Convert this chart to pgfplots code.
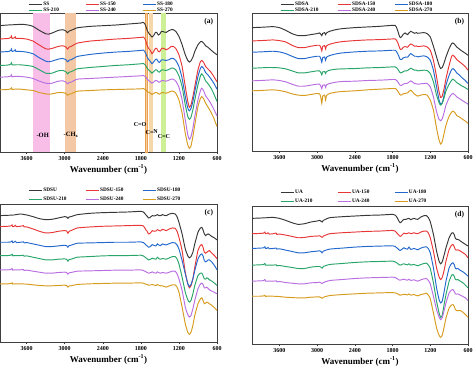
\documentclass[border=0pt]{standalone}
\usepackage{fontspec}
\setmainfont{Liberation Serif}
\usepackage{pgfplots}
\pgfplotsset{compat=1.18}
\definecolor{cK}{RGB}{55,55,55}
\definecolor{cR}{RGB}{232,55,55}
\definecolor{cB}{RGB}{35,105,205}
\definecolor{cG}{RGB}{40,165,105}
\definecolor{cP}{RGB}{185,110,225}
\definecolor{cO}{RGB}{215,155,30}
\definecolor{bPink}{RGB}{248,190,232}
\definecolor{bCH}{RGB}{244,200,165}
\definecolor{bCOe}{RGB}{235,160,80}
\definecolor{bCO}{RGB}{245,205,160}
\definecolor{bCN}{RGB}{245,215,170}
\definecolor{bCC}{RGB}{205,240,150}
\newcommand\lb[1]{\makebox[36pt][l]{#1}}
\pgfplotsset{ftir/.style={
  scale only axis, height=138pt,
  x dir=reverse, xmin=600,
  y dir=reverse, ytick=\empty,
  xtick={600,1200,1800,2400,3000,3600},
  xtick pos=lower, xtick align=outside,
  major tick length=2pt,
  tick style={black!80, line width=0.5pt},
  axis line style={line width=0.6pt, black!75},
  /pgf/number format/assume math mode=true,
  /pgf/number format/1000 sep={},
  xticklabel style={font=\bfseries\fontsize{6}{6}\selectfont, yshift=1pt},
  xlabel={Wavenumber (cm\textsuperscript{-1})},
  xlabel style={font=\bfseries\fontsize{9}{9}\selectfont, yshift=3pt},
  legend columns=3,
  legend style={draw=none, fill=none, at={(0.13,1)}, anchor=south west, yshift=0.5pt,
    inner sep=0pt, font=\bfseries\fontsize{5.3}{6}\selectfont, row sep=2pt,
    nodes={inner sep=1pt},
    /tikz/every even column/.append style={column sep=5pt}},
  legend image code/.code={\draw[#1,line width=0.9pt] (0pt,0pt) -- (13pt,0pt);},
  every axis plot/.append style={line width=0.95pt, smooth, tension=0.3},
  toplegend/.style={legend style={row sep=-1.5pt, yshift=-1.5pt}},
}}
\begin{document}
\begin{tikzpicture}
\useasboundingbox (0,0) rectangle (474pt,367pt);
\clip (0,0) rectangle (474pt,367pt);
% ---------------- (a)
\begin{axis}[ftir, toplegend, at={(0pt,215pt)}, anchor=south west, width=217pt, height=139pt,
  xmax=4020, ymin=40, ymax=456]
\fill[bPink] (axis cs:3495,40) rectangle (axis cs:3232,456);
\fill[bCH] (axis cs:2996,40) rectangle (axis cs:2828,456);
\fill[bCO, draw=bCOe, line width=0.6pt] (axis cs:1735,40) rectangle (axis cs:1700,456);
\fill[bCN] (axis cs:1672,40) rectangle (axis cs:1604,456);
\fill[bCC] (axis cs:1487,40) rectangle (axis cs:1408,456);
\addplot[cK] coordinates {(4030,78) (3900,76) (3800,75) (3700,74) (3650,74) (3550,77) (3500,80) (3400,92) (3300,102) (3250,103) (3200,100) (3100,92) (3030,90) (2980,94) (2955,99) (2930,94) (2900,92) (2850,88) (2800,84) (2600,80) (2400,78) (2200,76) (2000,73) (1800,70) (1760,68) (1740,72) (1720,80) (1700,92) (1670,102) (1650,106) (1625,112) (1600,108) (1570,98) (1550,98) (1525,106) (1505,104) (1480,96) (1460,95) (1430,97) (1400,98) (1360,93) (1320,90) (1290,90) (1250,95) (1200,110) (1150,135) (1100,165) (1060,182) (1035,187) (1010,183) (980,172) (950,155) (900,135) (860,126) (840,125) (810,130) (780,138) (740,143) (700,150) (650,158) (600,165)};
\addlegendentry{\lb{SS}}
\addplot[cR] coordinates {(4030,118) (3950,117) (3880,116) (3850,113) (3840,109) (3830,116) (3800,115) (3780,111) (3770,116) (3700,116) (3600,118) (3500,124) (3400,136) (3300,147) (3250,148) (3200,146) (3100,140) (3030,138) (2980,142) (2955,148) (2930,142) (2900,140) (2800,130) (2600,124) (2400,121) (2200,118) (2000,116) (1800,113) (1760,112) (1740,116) (1720,125) (1700,138) (1670,148) (1650,152) (1625,162) (1600,156) (1570,146) (1550,146) (1525,155) (1505,156) (1480,148) (1460,145) (1430,147) (1400,150) (1360,146) (1320,140) (1290,140) (1250,146) (1200,165) (1150,200) (1100,260) (1060,305) (1035,322) (1010,315) (980,290) (950,260) (900,210) (860,185) (840,182) (810,188) (780,200) (740,208) (700,216) (650,230) (600,246)};
\addlegendentry{\lb{SS-150}}
\addplot[cB] coordinates {(4030,157) (3950,156) (3880,155) (3850,152) (3840,148) (3830,155) (3800,154) (3780,150) (3770,155) (3700,155) (3600,157) (3500,162) (3400,174) (3300,184) (3250,186) (3200,184) (3100,178) (3030,176) (2980,180) (2955,186) (2930,181) (2900,180) (2800,170) (2600,164) (2400,160) (2200,157) (2000,155) (1800,152) (1760,151) (1740,155) (1720,162) (1700,172) (1670,181) (1650,185) (1625,192) (1600,187) (1570,179) (1550,178) (1525,186) (1505,188) (1480,181) (1460,180) (1430,181) (1400,182) (1360,180) (1320,176) (1290,176) (1250,182) (1200,200) (1150,235) (1100,290) (1060,325) (1035,333) (1010,326) (980,305) (950,275) (900,230) (860,205) (840,200) (810,206) (780,218) (740,226) (700,236) (650,250) (600,268)};
\addlegendentry{\lb{SS-180}}
\addplot[cG] coordinates {(4030,197) (3900,196) (3850,193) (3840,189) (3830,195) (3800,195) (3700,195) (3600,197) (3500,200) (3400,210) (3300,220) (3250,221) (3200,220) (3100,213) (3030,212) (2980,216) (2955,222) (2930,217) (2900,216) (2800,207) (2600,203) (2400,200) (2200,197) (2000,195) (1800,192) (1760,191) (1740,194) (1720,198) (1700,205) (1670,212) (1650,215) (1625,220) (1600,216) (1570,210) (1550,210) (1525,216) (1505,217) (1480,211) (1460,210) (1430,211) (1400,212) (1360,209) (1320,205) (1290,205) (1250,210) (1200,228) (1150,260) (1100,315) (1060,350) (1035,358) (1010,352) (980,330) (950,300) (900,255) (860,228) (840,222) (810,230) (780,243) (740,252) (700,263) (650,282) (600,305)};
\addlegendentry{\lb{SS-210}}
\addplot[cP] coordinates {(4030,232) (3900,231) (3850,229) (3840,225) (3830,231) (3800,230) (3700,230) (3600,232) (3500,236) (3400,244) (3300,250) (3250,251) (3200,250) (3100,244) (3030,243) (2980,247) (2955,252) (2930,248) (2900,247) (2800,238) (2600,236) (2400,234) (2200,232) (2000,230) (1800,228) (1760,227) (1740,229) (1720,232) (1700,238) (1670,243) (1650,246) (1625,250) (1600,247) (1570,242) (1550,242) (1525,246) (1505,247) (1480,243) (1460,242) (1430,243) (1400,244) (1360,241) (1320,238) (1290,238) (1250,244) (1200,262) (1150,300) (1100,360) (1060,405) (1035,418) (1010,410) (980,385) (950,350) (900,300) (860,272) (840,265) (810,273) (780,288) (740,298) (700,310) (650,328) (600,348)};
\addlegendentry{\lb{SS-240}}
\addplot[cO] coordinates {(4030,270) (3900,269) (3850,267) (3840,264) (3830,269) (3800,268) (3700,268) (3600,270) (3500,272) (3400,278) (3300,282) (3250,283) (3200,282) (3100,278) (3030,278) (2980,281) (2955,286) (2930,283) (2900,282) (2800,274) (2600,272) (2400,270) (2200,269) (2000,268) (1800,267) (1760,266) (1740,268) (1720,270) (1700,275) (1670,278) (1650,280) (1625,284) (1600,281) (1570,278) (1550,278) (1525,282) (1505,283) (1480,279) (1460,278) (1430,279) (1400,280) (1360,277) (1320,274) (1290,274) (1250,280) (1200,300) (1150,340) (1100,400) (1060,435) (1035,445) (1010,438) (980,410) (950,375) (900,320) (860,295) (840,290) (810,297) (780,310) (740,322) (700,335) (650,355) (600,380)};
\addlegendentry{\lb{SS-270}}
\node[font=\bfseries\fontsize{6.5}{7}\selectfont] at (axis cs:3347,405) {-OH};
\node[font=\bfseries\fontsize{6.5}{7}\selectfont] at (axis cs:2901,405) {-CH$_{\mathbf{x}}$};
\node[font=\bfseries\fontsize{6}{7}\selectfont] at (axis cs:1814,375) {C=O};
\node[font=\bfseries\fontsize{6}{7}\selectfont] at (axis cs:1628,396) {C=\raisebox{1.5pt}{N}};
\node[font=\bfseries\fontsize{6}{7}\selectfont] at (axis cs:1436,410) {C=C};
\node[anchor=north east, inner sep=0.5pt, font=\bfseries\fontsize{7.5}{8}\selectfont] at (axis description cs:0.985,0.965) {(a)};
\end{axis}
% ---------------- (b)
\begin{axis}[ftir, toplegend, at={(252pt,216pt)}, anchor=south west, width=216pt, height=138pt,
  xmax=4035, ymin=38, ymax=453]
\addplot[cK] coordinates {(4035,82) (3900,81) (3800,80) (3700,79) (3600,82) (3500,90) (3400,100) (3300,106) (3200,106) (3100,103) (3000,100) (2960,98) (2940,102) (2925,106) (2910,99) (2880,97) (2865,103) (2850,98) (2800,93) (2700,88) (2600,85) (2400,82) (2200,80) (2000,78) (1800,75) (1760,75) (1740,80) (1720,90) (1700,102) (1685,110) (1670,112) (1650,108) (1630,102) (1600,98) (1580,101) (1560,103) (1540,98) (1510,93) (1480,96) (1450,99) (1420,97) (1400,99) (1350,98) (1300,97) (1250,100) (1200,110) (1150,138) (1100,170) (1060,195) (1035,205) (1010,202) (980,188) (950,170) (900,145) (860,130) (840,128) (810,133) (780,140) (740,146) (700,152) (650,158) (600,165)};
\addlegendentry{\lb{SDSA}}
\addplot[cR] coordinates {(4035,122) (3900,121) (3800,120) (3700,119) (3600,121) (3500,125) (3400,135) (3300,142) (3200,142) (3100,138) (3000,135) (2960,135) (2940,142) (2925,152) (2910,138) (2880,136) (2865,146) (2850,137) (2800,132) (2700,127) (2600,124) (2400,121) (2200,119) (2000,118) (1800,116) (1760,116) (1740,119) (1720,126) (1700,136) (1685,145) (1670,148) (1650,146) (1630,141) (1600,139) (1580,140) (1560,141) (1540,136) (1510,131) (1480,134) (1450,138) (1420,137) (1400,139) (1350,138) (1300,137) (1250,140) (1200,150) (1150,180) (1100,230) (1060,275) (1035,292) (1010,288) (980,265) (950,235) (900,195) (860,168) (840,165) (810,170) (780,178) (740,184) (700,190) (650,198) (600,210)};
\addlegendentry{\lb{SDSA-150}}
\addplot[cB] coordinates {(4035,156) (3900,155) (3800,154) (3700,153) (3600,155) (3500,160) (3400,168) (3300,175) (3200,175) (3100,171) (3000,168) (2960,168) (2940,176) (2925,186) (2910,172) (2880,170) (2865,180) (2850,171) (2800,166) (2700,161) (2600,158) (2400,155) (2200,153) (2000,152) (1800,150) (1760,150) (1740,153) (1720,160) (1700,168) (1685,176) (1670,178) (1650,177) (1630,173) (1600,171) (1580,171) (1560,171) (1540,166) (1510,160) (1480,164) (1450,168) (1420,168) (1400,170) (1350,168) (1300,167) (1250,170) (1200,180) (1150,210) (1100,260) (1060,300) (1035,312) (1010,308) (980,285) (950,255) (900,225) (860,208) (840,205) (810,210) (780,218) (740,224) (700,232) (650,240) (600,250)};
\addlegendentry{\lb{SDSA-180}}
\addplot[cG] coordinates {(4035,204) (3900,203) (3800,202) (3700,202) (3600,203) (3500,206) (3400,212) (3300,218) (3200,218) (3100,215) (3000,212) (2960,212) (2940,217) (2925,224) (2910,215) (2880,214) (2865,220) (2850,214) (2800,210) (2700,207) (2600,206) (2400,205) (2200,203) (2000,202) (1800,200) (1760,200) (1740,202) (1720,206) (1700,212) (1685,216) (1670,218) (1650,217) (1630,214) (1600,212) (1580,212) (1560,211) (1540,208) (1510,204) (1480,207) (1450,210) (1420,210) (1400,212) (1350,211) (1300,210) (1250,211) (1200,220) (1150,245) (1100,285) (1060,308) (1035,315) (1010,310) (980,293) (950,272) (900,252) (860,240) (840,237) (810,241) (780,247) (740,252) (700,257) (650,262) (600,268)};
\addlegendentry{\lb{SDSA-210}}
\addplot[cP] coordinates {(4035,242) (3900,241) (3800,240) (3700,239) (3600,241) (3500,245) (3400,252) (3300,258) (3200,258) (3100,255) (3000,252) (2960,252) (2940,258) (2925,266) (2910,255) (2880,254) (2865,262) (2850,254) (2800,250) (2700,246) (2600,244) (2400,243) (2200,241) (2000,240) (1800,238) (1760,238) (1740,240) (1720,244) (1700,250) (1685,254) (1670,256) (1650,255) (1630,252) (1600,250) (1580,250) (1560,249) (1540,246) (1510,242) (1480,246) (1450,250) (1420,251) (1400,252) (1350,251) (1300,250) (1250,250) (1200,260) (1150,290) (1100,335) (1060,358) (1035,362) (1010,356) (980,337) (950,315) (900,293) (860,282) (840,280) (810,284) (780,290) (740,295) (700,300) (650,306) (600,312)};
\addlegendentry{\lb{SDSA-240}}
\addplot[cO] coordinates {(4035,272) (3900,271) (3800,270) (3700,269) (3600,271) (3500,275) (3400,281) (3300,285) (3200,286) (3100,283) (3000,280) (2960,281) (2940,292) (2925,310) (2910,288) (2880,285) (2865,300) (2850,286) (2800,280) (2700,276) (2600,274) (2400,272) (2200,269) (2000,267) (1800,265) (1760,265) (1740,267) (1720,272) (1700,278) (1685,283) (1670,285) (1650,284) (1630,281) (1600,280) (1580,279) (1560,278) (1540,274) (1510,270) (1480,276) (1450,282) (1420,286) (1400,288) (1350,285) (1300,283) (1250,285) (1200,300) (1150,330) (1100,385) (1060,420) (1035,432) (1010,425) (980,400) (950,375) (900,348) (860,336) (840,333) (810,337) (780,346) (760,349) (740,350) (700,356) (650,362) (600,370)};
\addlegendentry{\lb{SDSA-270}}
\node[anchor=north east, inner sep=0.5pt, font=\bfseries\fontsize{7.5}{8}\selectfont] at (axis description cs:0.985,0.965) {(b)};
\end{axis}
% ---------------- (c)
\begin{axis}[ftir, at={(0pt,25pt)}, anchor=south west, width=217pt, height=138pt,
  xmax=4020, ymin=60, ymax=475]
\addplot[cK] coordinates {(4030,95) (3900,94) (3800,93) (3700,90) (3600,93) (3500,98) (3400,104) (3300,107) (3200,106) (3100,102) (3000,98) (2970,99) (2950,103) (2930,99) (2900,98) (2800,92) (2600,88) (2400,86) (2200,85) (2000,84) (1800,82) (1760,84) (1740,88) (1720,93) (1700,97) (1680,102) (1660,101) (1640,98) (1620,95) (1590,96) (1560,94) (1540,92) (1510,95) (1490,95) (1460,92) (1430,94) (1400,95) (1350,90) (1300,88) (1260,90) (1230,98) (1200,115) (1150,150) (1100,195) (1060,216) (1035,222) (1010,218) (980,205) (950,180) (900,145) (860,132) (840,130) (820,138) (800,150) (780,155) (760,152) (740,150) (720,152) (680,158) (640,162) (600,168)};
\addlegendentry{\lb{SDSU}}
\addplot[cR] coordinates {(4030,128) (3900,127) (3850,126) (3830,123) (3820,128) (3800,128) (3780,124) (3760,128) (3700,127) (3650,125) (3640,129) (3600,129) (3500,135) (3400,142) (3300,147) (3200,146) (3100,142) (3000,140) (2970,141) (2950,148) (2930,142) (2900,140) (2800,132) (2600,129) (2400,127) (2200,126) (2000,125) (1800,124) (1760,126) (1740,131) (1720,138) (1700,142) (1680,150) (1660,149) (1640,145) (1620,140) (1590,142) (1560,141) (1540,137) (1510,140) (1490,141) (1460,136) (1430,138) (1400,140) (1350,135) (1300,132) (1260,133) (1230,142) (1200,160) (1150,200) (1100,265) (1060,300) (1035,312) (1010,306) (980,285) (950,250) (900,200) (860,184) (840,182) (820,190) (800,205) (780,208) (760,205) (740,202) (720,200) (680,208) (640,215) (600,225)};
\addlegendentry{\lb{SDSU-150}}
\addplot[cB] coordinates {(4030,175) (3900,175) (3850,174) (3830,171) (3820,176) (3800,175) (3780,172) (3760,176) (3700,175) (3650,174) (3640,177) (3600,176) (3500,180) (3400,184) (3300,188) (3200,188) (3100,186) (3000,184) (2970,185) (2950,190) (2930,185) (2900,184) (2800,178) (2600,177) (2400,176) (2200,175) (2000,175) (1800,174) (1760,176) (1740,179) (1720,183) (1700,186) (1680,190) (1660,189) (1640,186) (1620,182) (1590,185) (1560,186) (1540,180) (1510,184) (1490,185) (1460,180) (1430,182) (1400,183) (1350,179) (1300,176) (1260,177) (1230,183) (1200,195) (1150,230) (1100,270) (1060,300) (1035,308) (1010,302) (980,285) (950,260) (900,225) (860,212) (840,210) (820,216) (800,230) (780,234) (760,232) (740,228) (720,228) (680,235) (640,245) (600,258)};
\addlegendentry{\lb{SDSU-180}}
\addplot[cG] coordinates {(4030,215) (3900,215) (3850,214) (3830,211) (3820,216) (3800,215) (3700,215) (3650,214) (3640,217) (3600,216) (3500,220) (3400,224) (3300,228) (3200,228) (3100,226) (3000,225) (2970,226) (2950,232) (2930,227) (2900,226) (2800,220) (2600,218) (2400,216) (2200,215) (2000,215) (1800,214) (1760,216) (1740,219) (1720,222) (1700,225) (1680,228) (1660,227) (1640,225) (1620,223) (1590,225) (1560,226) (1540,220) (1510,225) (1490,226) (1460,224) (1430,225) (1400,226) (1350,222) (1300,218) (1260,218) (1230,225) (1200,240) (1150,280) (1100,325) (1060,348) (1035,355) (1010,350) (980,330) (950,305) (900,275) (860,268) (840,268) (820,275) (800,285) (780,286) (760,282) (740,284) (720,288) (680,292) (640,298) (600,305)};
\addlegendentry{\lb{SDSU-210}}
\addplot[cP] coordinates {(4030,258) (3900,258) (3850,257) (3830,254) (3820,259) (3800,258) (3700,258) (3650,257) (3640,260) (3600,259) (3500,262) (3400,265) (3300,268) (3200,268) (3100,266) (3000,265) (2970,266) (2950,271) (2930,267) (2900,266) (2800,262) (2600,261) (2400,260) (2200,259) (2000,259) (1800,258) (1760,260) (1740,262) (1720,264) (1700,266) (1680,268) (1660,267) (1640,266) (1620,264) (1590,267) (1560,268) (1540,264) (1510,267) (1490,268) (1460,266) (1430,267) (1400,268) (1350,265) (1300,262) (1260,262) (1230,270) (1200,285) (1150,320) (1100,370) (1060,393) (1035,400) (1010,395) (980,375) (950,350) (900,315) (860,300) (840,298) (820,302) (800,312) (780,312) (760,310) (740,314) (720,318) (680,322) (640,326) (600,330)};
\addlegendentry{\lb{SDSU-240}}
\addplot[cO] coordinates {(4030,300) (3900,300) (3850,299) (3830,297) (3820,301) (3800,300) (3700,300) (3600,301) (3500,303) (3400,305) (3300,306) (3200,306) (3100,305) (3000,304) (2970,305) (2950,310) (2930,306) (2900,306) (2800,302) (2600,300) (2400,299) (2200,298) (2000,298) (1800,297) (1760,298) (1740,300) (1720,301) (1700,302) (1680,304) (1660,304) (1640,303) (1620,302) (1590,304) (1560,305) (1540,302) (1510,305) (1490,306) (1460,306) (1430,308) (1400,310) (1350,306) (1300,303) (1260,303) (1230,310) (1200,325) (1150,370) (1100,420) (1060,446) (1035,452) (1010,446) (980,425) (950,395) (900,360) (860,345) (840,342) (820,350) (800,360) (780,358) (760,355) (740,357) (720,360) (680,365) (640,372) (600,380)};
\addlegendentry{\lb{SDSU-270}}
\node[anchor=north east, inner sep=0.5pt, font=\bfseries\fontsize{7.5}{8}\selectfont] at (axis description cs:0.985,0.965) {(c)};
\end{axis}
% ---------------- (d)
\begin{axis}[ftir, at={(252pt,23pt)}, anchor=south west, width=216pt, height=138pt,
  xmax=4035, ymin=65, ymax=478]
\addplot[cK] coordinates {(4035,102) (3900,101) (3800,100) (3700,99) (3600,102) (3500,108) (3400,115) (3300,120) (3200,118) (3100,113) (3000,110) (2960,108) (2940,110) (2920,113) (2900,108) (2800,100) (2600,97) (2400,95) (2200,93) (2000,92) (1800,90) (1760,92) (1740,96) (1720,102) (1700,110) (1680,115) (1660,113) (1640,108) (1620,105) (1590,105) (1560,103) (1540,102) (1510,106) (1490,104) (1460,102) (1430,104) (1400,105) (1350,98) (1300,94) (1260,94) (1230,100) (1200,112) (1150,150) (1100,200) (1060,230) (1035,238) (1010,232) (980,212) (950,190) (900,160) (860,146) (840,145) (820,150) (800,162) (780,165) (760,165) (740,167) (720,170) (680,175) (640,180) (600,185)};
\addlegendentry{\lb{UA}}
\addplot[cR] coordinates {(4035,148) (3900,147) (3850,146) (3830,143) (3820,148) (3800,148) (3780,145) (3760,149) (3700,148) (3650,146) (3640,150) (3600,149) (3500,152) (3400,156) (3300,160) (3200,159) (3100,156) (3000,155) (2960,154) (2940,156) (2920,159) (2900,155) (2800,148) (2600,145) (2400,143) (2200,141) (2000,140) (1800,138) (1760,140) (1740,144) (1720,148) (1700,152) (1680,156) (1660,154) (1640,150) (1620,146) (1590,148) (1560,147) (1540,145) (1510,148) (1490,147) (1460,145) (1430,147) (1400,148) (1350,143) (1300,140) (1260,140) (1230,146) (1200,160) (1150,200) (1100,250) (1060,277) (1035,285) (1010,279) (980,258) (950,230) (900,195) (860,182) (840,180) (820,186) (800,196) (780,197) (760,196) (740,198) (720,200) (680,205) (640,210) (600,220)};
\addlegendentry{\lb{UA-150}}
\addplot[cB] coordinates {(4035,192) (3900,191) (3850,190) (3830,187) (3820,192) (3800,192) (3780,189) (3760,193) (3700,192) (3650,191) (3640,194) (3600,193) (3500,197) (3400,201) (3300,205) (3200,205) (3100,202) (3000,200) (2960,199) (2940,201) (2920,205) (2900,200) (2800,194) (2600,191) (2400,188) (2200,186) (2000,185) (1800,184) (1760,186) (1740,189) (1720,192) (1700,196) (1680,198) (1660,196) (1640,193) (1620,190) (1590,193) (1560,194) (1540,188) (1510,195) (1490,194) (1460,192) (1430,194) (1400,196) (1350,191) (1300,188) (1260,187) (1230,193) (1200,205) (1150,250) (1100,310) (1060,345) (1035,355) (1010,350) (980,322) (950,290) (900,250) (860,237) (840,235) (820,240) (800,252) (780,253) (760,252) (740,255) (720,258) (680,262) (640,268) (600,275)};
\addlegendentry{\lb{UA-180}}
\addplot[cG] coordinates {(4035,242) (3900,241) (3850,240) (3830,237) (3820,242) (3800,242) (3700,242) (3650,241) (3640,244) (3600,243) (3500,246) (3400,249) (3300,252) (3200,252) (3100,248) (3000,246) (2960,246) (2940,248) (2920,251) (2900,246) (2800,240) (2600,237) (2400,234) (2200,232) (2000,231) (1800,230) (1760,232) (1740,234) (1720,237) (1700,240) (1680,242) (1660,241) (1640,239) (1620,238) (1590,240) (1560,241) (1540,238) (1510,242) (1490,241) (1460,240) (1430,242) (1400,244) (1350,240) (1300,237) (1260,236) (1230,242) (1200,252) (1150,295) (1100,350) (1060,385) (1035,398) (1010,392) (980,360) (950,330) (900,290) (860,272) (840,270) (820,275) (800,285) (780,286) (760,285) (740,288) (720,290) (680,295) (640,302) (600,310)};
\addlegendentry{\lb{UA-210}}
\addplot[cP] coordinates {(4035,290) (3900,289) (3850,288) (3830,285) (3820,290) (3800,290) (3700,290) (3650,289) (3640,292) (3600,291) (3500,294) (3400,296) (3300,298) (3200,298) (3100,295) (3000,294) (2960,293) (2940,295) (2920,297) (2900,294) (2800,288) (2600,285) (2400,282) (2200,280) (2000,279) (1800,278) (1760,279) (1740,281) (1720,283) (1700,286) (1680,287) (1660,286) (1640,285) (1620,284) (1590,286) (1560,287) (1540,284) (1510,288) (1490,287) (1460,286) (1430,288) (1400,290) (1350,286) (1300,283) (1260,282) (1230,288) (1200,298) (1150,335) (1100,375) (1060,397) (1035,405) (1010,399) (980,378) (950,355) (900,325) (860,316) (840,315) (820,320) (800,328) (780,329) (760,328) (740,330) (720,332) (680,336) (640,340) (600,348)};
\addlegendentry{\lb{UA-240}}
\addplot[cO] coordinates {(4035,335) (3900,335) (3850,334) (3830,332) (3820,336) (3800,335) (3700,335) (3600,336) (3500,338) (3400,339) (3300,340) (3200,340) (3100,338) (3000,337) (2960,337) (2940,339) (2920,341) (2900,338) (2800,333) (2600,330) (2400,328) (2200,326) (2000,325) (1800,324) (1760,325) (1740,326) (1720,328) (1700,330) (1680,332) (1660,331) (1640,330) (1620,329) (1590,330) (1560,331) (1540,328) (1510,332) (1490,331) (1460,330) (1430,332) (1400,334) (1350,330) (1300,328) (1260,326) (1230,332) (1200,342) (1150,385) (1100,430) (1060,452) (1035,458) (1010,452) (980,428) (950,400) (900,370) (860,361) (840,360) (820,365) (800,375) (780,378) (760,378) (740,378) (720,378) (680,383) (640,390) (600,398)};
\addlegendentry{\lb{UA-270}}
\node[anchor=north east, inner sep=0.5pt, font=\bfseries\fontsize{7.5}{8}\selectfont] at (axis description cs:0.985,0.965) {(d)};
\end{axis}
\end{tikzpicture}
\end{document}
